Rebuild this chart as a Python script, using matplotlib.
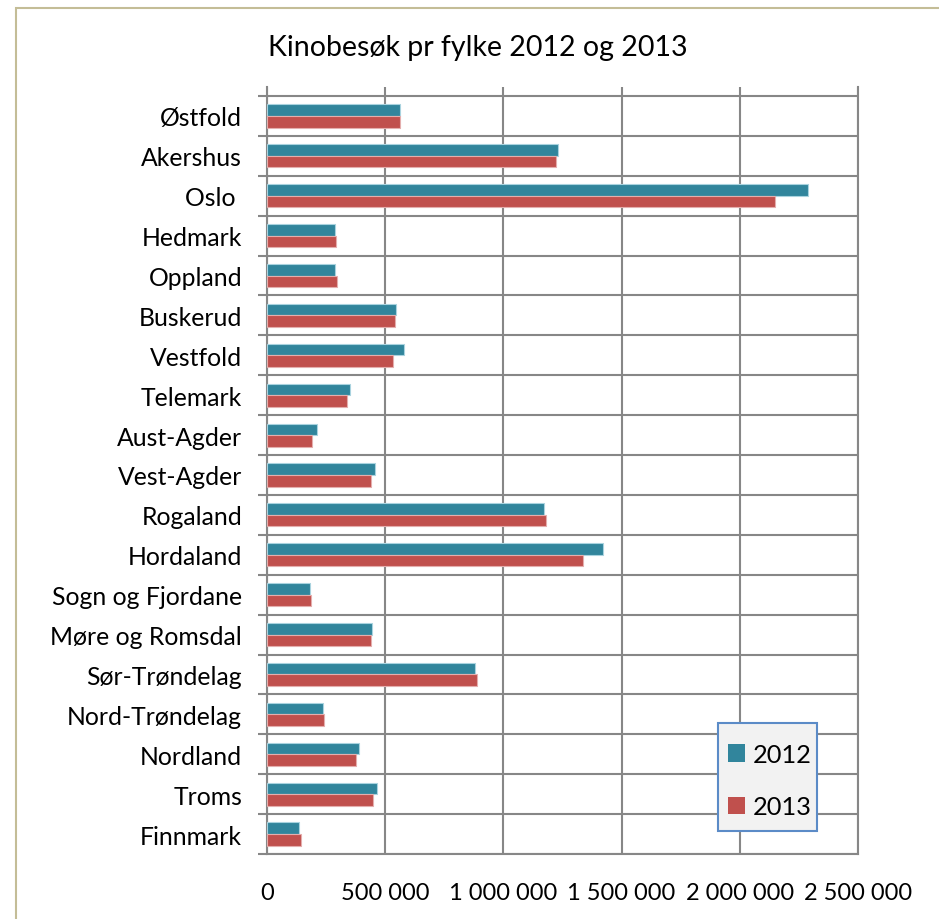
import matplotlib
matplotlib.use("Agg")
import matplotlib.pyplot as plt
import numpy as np
from matplotlib.patches import Rectangle

plt.rcParams['font.family'] = ['Lato', 'DejaVu Sans']

counties = ["Østfold", "Akershus", "Oslo ", "Hedmark", "Oppland", "Buskerud", "Vestfold",
            "Telemark", "Aust-Agder", "Vest-Agder", "Rogaland", "Hordaland",
            "Sogn og Fjordane", "Møre og Romsdal", "Sør-Trøndelag", "Nord-Trøndelag",
            "Nordland", "Troms", "Finnmark"]
visits_2012 = [564000, 1232000, 2289000, 286000, 289000, 547000, 578000, 350000, 211000,
               456000, 1170000, 1420000, 183000, 443000, 879000, 239000, 391000, 467000, 137000]
visits_2013 = [564000, 1224000, 2150000, 292000, 294000, 542000, 532000, 339000, 191000,
               439000, 1179000, 1338000, 186000, 439000, 887000, 243000, 377000, 450000, 145000]
x_ticks = [0, 500000, 1000000, 1500000, 2000000, 2500000]
x_tick_labels = ["0", "500 000", "1 000 000", "1 500 000", "2 000 000", "2 500 000"]
series_labels = ["2012", "2013"]
title = "Kinobesøk pr fylke 2012 og 2013"

W, H = 939, 920
fig = plt.figure(figsize=(W / 100, H / 100), dpi=100)
fig.patch.set_facecolor("white")

# axes placement in pixels
ax_l, ax_r, ax_t, ax_b = 267, 858, 88, 855
ax = fig.add_axes([ax_l / W, 1 - ax_b / H, (ax_r - ax_l) / W, (ax_b - ax_t) / H])

n = len(counties)
y = np.arange(n)
bh = 0.29
c12 = "#31859C"
c13 = "#C0504D"
ax.barh(y - bh / 2, visits_2012, height=bh, color=c12, edgecolor="#A9D3DF",
        linewidth=0.8, label=series_labels[0], zorder=3)
ax.barh(y + bh / 2, visits_2013, height=bh, color=c13, edgecolor="#E4AEAD",
        linewidth=0.8, label=series_labels[1], zorder=3)

cat_px = (ax_b - 97) / n
extra = (97 - ax_t) / cat_px
ax.set_ylim(n - 0.5, -0.5 - extra)
ax.set_xlim(0, 2500000)

grid_c = "#878787"
lw = 1.5
ax.set_xticks(x_ticks)
ax.set_xticklabels(x_tick_labels, fontsize=17)
ax.tick_params(axis="x", length=0, pad=20)
ax.xaxis.grid(True, color=grid_c, linewidth=lw, zorder=1)

ax.set_yticks(y)
ax.set_yticklabels(counties, fontsize=17.8)
ax.set_yticks(np.arange(n + 1) - 0.5, minor=True)
ax.tick_params(axis="y", which="major", length=0, pad=18)
ax.tick_params(axis="y", which="minor", length=6.5, width=lw, color=grid_c, direction="out")
ax.yaxis.grid(True, which="minor", color=grid_c, linewidth=lw, zorder=1)
ax.set_axisbelow(True)

for s in ["left", "right", "bottom"]:
    ax.spines[s].set_color(grid_c)
    ax.spines[s].set_linewidth(lw)
ax.spines["top"].set_visible(False)

fig.text(478 / W, 1 - 48 / H, title, ha="center", va="center", fontsize=20.5)

# legend frame
lx0, lx1, ly0, ly1 = 718, 817, 724, 832
frame = Rectangle((lx0 / W, 1 - ly1 / H), (lx1 - lx0) / W, (ly1 - ly0) / H,
                  transform=fig.transFigure, facecolor="#F2F2F2", edgecolor="#5B8BC7",
                  linewidth=1.5, zorder=10)
fig.patches.append(frame)
leg = fig.legend(*ax.get_legend_handles_labels(), loc="upper left",
                 bbox_to_anchor=(723 / W, 1 - 739 / H),
                 bbox_transform=fig.transFigure, borderaxespad=0, fontsize=18.3,
                 frameon=False, handlelength=0.68, handleheight=0.68,
                 handletextpad=0.3, labelspacing=1.15, borderpad=0.2)
leg.set_zorder(11)
for h in leg.legend_handles:
    h.set_linewidth(0)

border = Rectangle((16 / W, -0.02), 1.05, 1 - 9 / H + 0.02, transform=fig.transFigure,
                   fill=False, edgecolor="#C4BD97", linewidth=1.5, clip_on=False)
fig.patches.append(border)

fig.savefig("out.png", dpi=100, facecolor="white")
